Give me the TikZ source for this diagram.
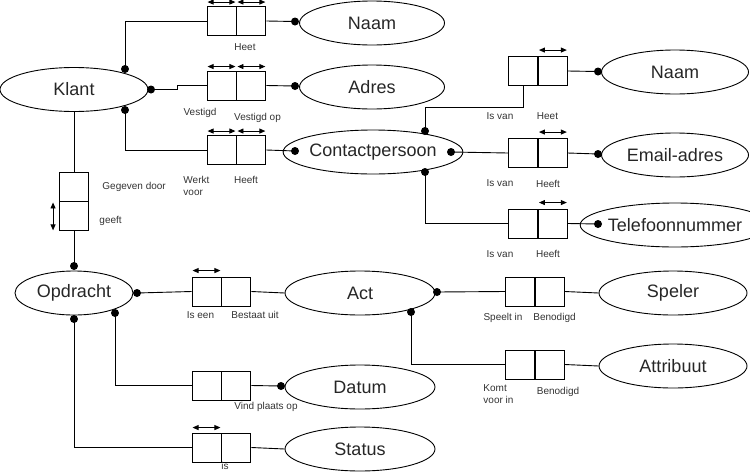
\documentclass[tikz,border=0pt]{standalone}
\usepackage{fontspec}
\setmainfont{Liberation Sans}
\usetikzlibrary{shapes.geometric,arrows.meta}
\begin{document}
\begin{tikzpicture}[x=1pt,y=-1pt,line width=0.9pt,
  ent/.style={ellipse, draw, minimum width=#1, minimum height=44pt, inner sep=0pt, text=black!85, font=\fontsize{18}{20}\selectfont},
  ent/.default=148pt,
  cell/.style={draw, minimum width=29pt, minimum height=29pt, inner sep=0pt},
  dot/.style={circle, fill, minimum size=8pt, inner sep=0pt},
  lbl/.style={font=\fontsize{10}{12}\selectfont, text=black!80, inner sep=0pt, align=left},
  uni/.style={<->, >={Triangle[length=6pt,width=5pt]}}]
\useasboundingbox (0,0) rectangle (750,472);

% entities
\node[ent=148pt] (klant) at (74,89.5) {Klant};
\node[ent=145pt] (naam1) at (372,23) {Naam};
\node[ent=145pt] (adres) at (372,87) {Adres};
\node[ent=152pt] (contact) at (373,152) {Contactpersoon};
\node[ent=147pt] (naam2) at (675,72) {Naam};
\node[ent=147pt] (email) at (675,155) {Email-adres};
\node[ent=147pt] (tel) at (675,225) {Telefoonnummer};
\node[ent=118pt] (opdracht) at (74,293) {Opdracht};
\node[ent=150pt] (act) at (360,293) {Act};
\node[ent=150pt] (datum) at (360,387) {Datum};
\node[ent=150pt] (status) at (360,449) {Status};
\node[ent=148pt] (speler) at (673,293) {Speler};
\node[ent=148pt] (attribuut) at (673,366) {Attribuut};

% role boxes
\node[cell] (k1a) at (221.5,21) {};   \node[cell,anchor=west] (k1b) at (k1a.east) {};
\node[cell] (k2a) at (221.5,85.5) {}; \node[cell,anchor=west] (k2b) at (k2a.east) {};
\node[cell] (k3a) at (221.5,150) {};  \node[cell,anchor=west] (k3b) at (k3a.east) {};
\node[cell] (c1a) at (523,71) {};     \node[cell,anchor=west] (c1b) at (c1a.east) {};
\node[cell] (c2a) at (523,153) {};    \node[cell,anchor=west] (c2b) at (c2a.east) {};
\node[cell] (c3a) at (523,223.5) {};  \node[cell,anchor=west] (c3b) at (c3a.east) {};
\node[cell] (v1) at (74,186.5) {};    \node[cell,anchor=north] (v2) at (v1.south) {};
\node[cell] (o1a) at (206.5,291.5) {}; \node[cell,anchor=west] (o1b) at (o1a.east) {};
\node[cell] (o2a) at (206.5,385.5) {}; \node[cell,anchor=west] (o2b) at (o2a.east) {};
\node[cell] (o3a) at (206.5,447.5) {}; \node[cell,anchor=west] (o3b) at (o3a.east) {};
\node[cell] (a1a) at (520,291.5) {};  \node[cell,anchor=west] (a1b) at (a1a.east) {};
\node[cell] (a2a) at (520,364.5) {};  \node[cell,anchor=west] (a2b) at (a2a.east) {};

% uniqueness arrows
\foreach \c/\s in {k1a/4,k1b/4,k2a/4,k2b/4,k3a/4,k3b/4,c1b/6,c2b/6,c3b/6,o1a/6,o3a/5}{
  \draw[uni] ([shift={(1pt,\s pt)}]\c.north west) -- ([shift={(-1pt,\s pt)}]\c.north east);
}
\draw[uni] ([shift={(-6pt,-1pt)}]v2.north west) -- ([shift={(-6pt,1pt)}]v2.south west);

% dots
\node[dot] (dk1) at (125,69) {};
\node[dot] (dk2) at (151,89.5) {};
\node[dot] (dk3) at (125,110) {};
\node[dot] (dn1) at (295,21.5) {};
\node[dot] (da) at (295,86) {};
\node[dot] (dc1) at (295,151) {};
\node[dot] (dc2) at (425,131) {};
\node[dot] (dc3) at (451,152) {};
\node[dot] (dc4) at (425,172) {};
\node[dot] (dn2) at (598,71.5) {};
\node[dot] (de) at (598,154) {};
\node[dot] (dt) at (598,224) {};
\node[dot] (do1) at (74,266) {};
\node[dot] (do2) at (137,293) {};
\node[dot] (do3) at (115,313) {};
\node[dot] (do4) at (74,319) {};
\node[dot] (dd) at (281,386) {};
\node[dot] (dac1) at (437,292) {};
\node[dot] (dac2) at (411,312) {};

% connectors
\draw (dk1.center) |- (k1a.west);
\draw (k1b.east) -- (dn1.center);
\draw (dk2.center) -- ++(26,0) |- (k2a.west);
\draw (k2b.east) -- (da.center);
\draw (dk3.center) |- (k3a.west);
\draw (k3b.east) -- (dc1.center);
\draw (dc2.center) -- ++(0,-24) -| (c1a.south);
\draw (dc3.center) -- (c2a.west);
\draw (dc4.center) |- (c3a.west);
\draw (c1b.east) -- (dn2.center);
\draw (c2b.east) -- (de.center);
\draw (c3b.east) -- (dt.center);
\draw (klant.south) -- (v1.north);
\draw (v2.south) -- (do1.center);
\draw (do2.center) -- (o1a.west);
\draw (o1b.east) -- (act.west);
\draw (do3.center) |- (o2a.west);
\draw (o2b.east) -- (dd.center);
\draw (do4.center) |- (o3a.west);
\draw (o3b.east) -- (status.west);
\draw (dac1.center) -- (a1a.west);
\draw (a1b.east) -- (speler.west);
\draw (dac2.center) |- (a2a.west);
\draw (a2b.east) -- (attribuut.west);

% labels
\node[lbl] (l1) at (245,47.5) {Heet};
\node[lbl] (l2) at (200,113) {Vestigd};
\node[lbl] (l3) at (257.5,118) {Vestigd op};
\node[lbl,anchor=west] (l4) at (183,186) {Werkt\\voor};
\node[lbl] (l5) at (246,180) {Heeft};
\node[lbl,anchor=west] (l6) at (102,186.5) {Gegeven door};
\node[lbl,anchor=west] (l7) at (99,220.5) {geeft};
\node[lbl] (l8) at (500,116) {Is van};
\node[lbl] (l9) at (547.5,116) {Heet};
\node[lbl] (l10) at (500,183.5) {Is van};
\node[lbl] (l11) at (548,183.5) {Heeft};
\node[lbl] (l12) at (500,254) {Is van};
\node[lbl] (l13) at (548,254) {Heeft};
\node[lbl] (l14) at (200.5,315.3) {Is een};
\node[lbl] (l15) at (255,315.3) {Bestaat uit};
\node[lbl] (l16) at (266,406.7) {Vind plaats op};
\node[lbl] (l17) at (225,466) {is};
\node[lbl] (l18) at (503,318.3) {Speelt in};
\node[lbl] (l19) at (554.5,318.3) {Benodigd};
\node[lbl,anchor=west] (l20) at (483,394.2) {Komt\\voor in};
\node[lbl] (l21) at (558,391.7) {Benodigd};
\end{tikzpicture}
\end{document}
